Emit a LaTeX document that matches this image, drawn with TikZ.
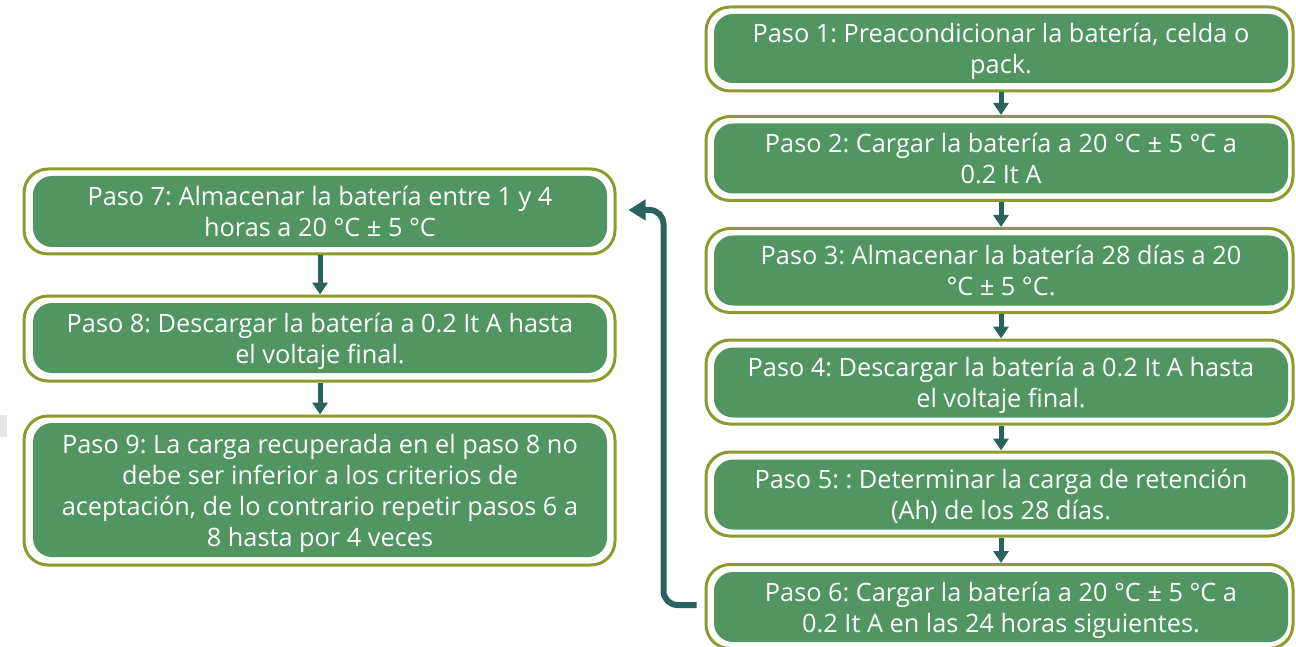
\documentclass[tikz,border=0pt]{standalone}
\usepackage{fontspec}
\setmainfont{Open Sans}
\usetikzlibrary{arrows.meta}
\definecolor{boxgreen}{RGB}{81,149,96}
\definecolor{boxolive}{RGB}{143,154,46}
\definecolor{arrteal}{RGB}{42,99,94}
\definecolor{markgray}{RGB}{230,230,230}
\frenchspacing
\begin{document}
\begin{tikzpicture}[x=1pt,y=-1pt,
  outerbox/.style={draw=boxolive, line width=3pt, fill=white, rounded corners=24pt, inner sep=0pt},
  innerbox/.style={fill=boxgreen, rounded corners=19pt, text=white, align=center, inner sep=0pt,
    text depth=0pt, minimum width=574pt, font=\fontsize{25.3}{31}\selectfont},
  flowarrow/.style={draw=arrteal, line width=5pt, -{Triangle[length=12pt,width=15pt]}},
  backarrow/.style={draw=arrteal, line width=6pt, rounded corners=14pt, -{Triangle[length=17pt,width=20pt]}}
]
\useasboundingbox (0,0) rectangle (1296,647);
\fill[markgray] (0,415) rectangle (7,437);

% outer frames, right column
\node[outerbox, minimum width=587pt, minimum height=84pt] (o1) at (999.5,49) {};
\node[outerbox, minimum width=587pt, minimum height=84pt] (o2) at (999.5,158.5) {};
\node[outerbox, minimum width=587pt, minimum height=84pt] (o3) at (999.5,270.5) {};
\node[outerbox, minimum width=587pt, minimum height=84pt] (o4) at (999.5,382) {};
\node[outerbox, minimum width=587pt, minimum height=84pt] (o5) at (999.5,494) {};
\node[outerbox, minimum width=587pt, minimum height=84pt] (o6) at (999.5,606.5) {};
% outer frames, left column
\node[outerbox, minimum width=591pt, minimum height=85pt] (o7) at (319.5,211.5) {};
\node[outerbox, minimum width=591pt, minimum height=85pt] (o8) at (319.5,338.5) {};
\node[outerbox, minimum width=591pt, minimum height=149pt] (o9) at (319.5,490.5) {};

% inner boxes
\node[innerbox, minimum height=69pt] (b1) at (1001,48.5) {Paso 1: Preacondicionar la batería, celda o\\pack.};
\node[innerbox, minimum height=70pt] (b2) at (1001,158.5) {Paso 2: Cargar la batería a 20 °C ± 5 °C a\\0.2 It A};
\node[innerbox, minimum height=70pt] (b3) at (1001,270.5) {Paso 3: Almacenar la batería 28 días a 20\\°C ± 5 °C.};
\node[innerbox, minimum height=70pt] (b4) at (1001,382.5) {Paso 4: Descargar la batería a 0.2 It A hasta\\el voltaje final.};
\node[innerbox, minimum height=70pt] (b5) at (1001,494.5) {Paso 5: : Determinar la carga de retención\\(Ah) de los 28 días.};
\node[innerbox, minimum height=70pt] (b6) at (1001,607) {Paso 6: Cargar la batería a 20 °C ± 5 °C a\\0.2 It A en las 24 horas siguientes.};
\node[innerbox, minimum height=71pt] (b7) at (320,211.5) {Paso 7: Almacenar la batería entre 1 y 4\\horas a 20 °C ± 5 °C};
\node[innerbox, minimum height=70pt] (b8) at (320,338) {Paso 8: Descargar la batería a 0.2 It A hasta\\el voltaje final.};
\node[innerbox, minimum height=134pt] (b9) at (320,490) {Paso 9: La carga recuperada en el paso 8 no\\debe ser inferior a los criterios de\\aceptación, de lo contrario repetir pasos 6 a\\8 hasta por 4 veces};

% arrows
\draw[flowarrow] (b1.south |- o1.south) -- (b2.north |- o2.north);
\draw[flowarrow] (b2.south |- o2.south) -- (b3.north |- o3.north);
\draw[flowarrow] (b3.south |- o3.south) -- (b4.north |- o4.north);
\draw[flowarrow] (b4.south |- o4.south) -- (b5.north |- o5.north);
\draw[flowarrow] (b5.south |- o5.south) -- (b6.north |- o6.north);
\draw[flowarrow] (b7.south |- o7.south) -- (b8.north |- o8.north);
\draw[flowarrow] (b8.south |- o8.south) -- (b9.north |- o9.north);
\coordinate (fbstart) at ([xshift=-8pt,yshift=1.5pt]o6.west);
\draw[backarrow] (fbstart) -- ++(-33,0) |- ([xshift=12pt,yshift=1.5pt]o7.east);
\end{tikzpicture}
\end{document}
